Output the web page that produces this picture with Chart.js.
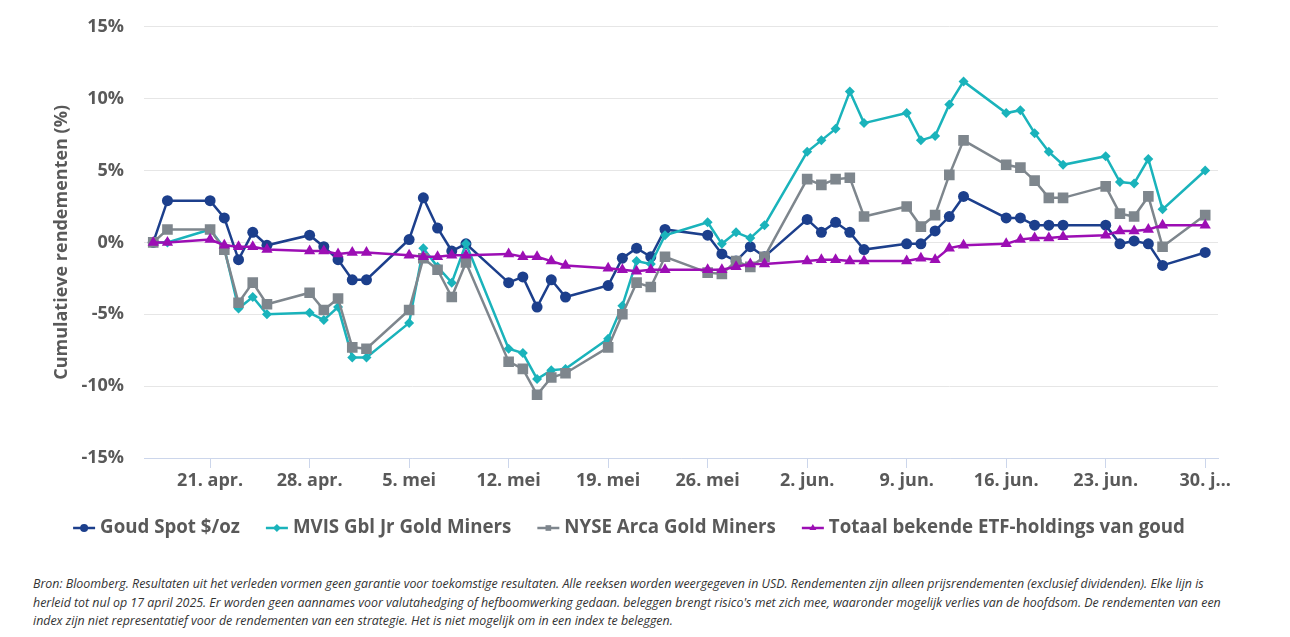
<!DOCTYPE html>
<html lang="nl">
  <head>
    <meta charset="UTF-8" />
    <title>Cumulatieve rendementen goud</title>
    <script src="https://cdn.jsdelivr.net/npm/chart.js@4.4.1/dist/chart.umd.min.js"></script>
    <style>
      body {
        margin: 0;
        background: #ffffff;
        font-family: "Open Sans", sans-serif;
      }
      .wrap {
        position: relative;
        width: 1290px;
        height: 637px;
        overflow: hidden;
      }
      #goldChart {
        position: absolute;
        left: 0;
        top: -4px;
      }
      .footer {
        position: absolute;
        left: 33px;
        top: 575px;
        font-size: 12.4px;
        line-height: 18.5px;
        font-style: italic;
        color: #333333;
        white-space: nowrap;
      }
    </style>
  </head>
  <body>
    <div class="wrap">
      <canvas id="goldChart" width="1290" height="564"></canvas>
      <div class="footer">
        Bron: Bloomberg. Resultaten uit het verleden vormen geen garantie voor toekomstige resultaten. Alle reeksen worden weergegeven in USD. Rendementen zijn alleen prijsrendementen (exclusief dividenden). Elke lijn is<br />
        herleid tot nul op 17 april 2025. Er worden geen aannames voor valutahedging of hefboomwerking gedaan. beleggen brengt risico's met zich mee, waaronder mogelijk verlies van de hoofdsom. De rendementen van een<br />
        index zijn niet representatief voor de rendementen van een strategie. Het is niet mogelijk om in een index te beleggen.
      </div>
    </div>

    <script>
      // trading days
      const dates = [
        "2025-04-17", "2025-04-18", "2025-04-21", "2025-04-22", "2025-04-23", "2025-04-24", "2025-04-25",
        "2025-04-28", "2025-04-29", "2025-04-30", "2025-05-01", "2025-05-02",
        "2025-05-05", "2025-05-06", "2025-05-07", "2025-05-08", "2025-05-09",
        "2025-05-12", "2025-05-13", "2025-05-14", "2025-05-15", "2025-05-16",
        "2025-05-19", "2025-05-20", "2025-05-21", "2025-05-22", "2025-05-23",
        "2025-05-26", "2025-05-27", "2025-05-28", "2025-05-29", "2025-05-30",
        "2025-06-02", "2025-06-03", "2025-06-04", "2025-06-05", "2025-06-06",
        "2025-06-09", "2025-06-10", "2025-06-11", "2025-06-12", "2025-06-13",
        "2025-06-16", "2025-06-17", "2025-06-18", "2025-06-19", "2025-06-20",
        "2025-06-23", "2025-06-24", "2025-06-25", "2025-06-26", "2025-06-27",
        "2025-06-30"
      ];

      const goudSpot = [
        0, 2.9, 2.9, 1.7, -1.2, 0.7, -0.2, 0.5, -0.3, -1.2, -2.6, -2.6,
        0.2, 3.1, 1.0, -0.6, -0.1, -2.8, -2.4, -4.5, -2.6, -3.8,
        -3.0, -1.1, -0.4, -1.0, 0.9, 0.5, -0.8, -1.3, -0.3, -1.0,
        1.6, 0.7, 1.4, 0.7, -0.5, -0.1, -0.1, 0.8, 1.8, 3.2,
        1.7, 1.7, 1.2, 1.2, 1.2, 1.2, -0.1, 0.1, -0.1, -1.6, -0.7
      ];
      const mvisJr = [
        0, 0, 0.9, -0.4, -4.6, -3.8, -5.0, -4.9, -5.4, -4.5, -8.0, -8.0,
        -5.6, -0.4, -1.7, -2.8, -0.1, -7.4, -7.7, -9.5, -8.9, -8.8,
        -6.7, -4.4, -1.3, -1.5, 0.5, 1.4, -0.1, 0.7, 0.3, 1.2,
        6.3, 7.1, 7.9, 10.5, 8.3, 9.0, 7.1, 7.4, 9.6, 11.2,
        9.0, 9.2, 7.6, 6.3, 5.4, 6.0, 4.2, 4.1, 5.8, 2.3, 5.0
      ];
      const nyseArca = [
        0, 0.9, 0.9, -0.5, -4.2, -2.8, -4.3, -3.5, -4.7, -3.9, -7.3, -7.4,
        -4.7, -1.1, -1.9, -3.8, -1.4, -8.3, -8.8, -10.6, -9.4, -9.1,
        -7.3, -5.0, -2.8, -3.1, -1.0, -2.1, -2.2, -1.3, -1.7, -1.0,
        4.4, 4.0, 4.4, 4.5, 1.8, 2.5, 1.1, 1.9, 4.7, 7.1,
        5.4, 5.2, 4.3, 3.1, 3.1, 3.9, 2.0, 1.8, 3.2, -0.3, 1.9
      ];
      const etfHoldings = [
        0, 0, 0.2, -0.2, -0.3, -0.3, -0.5, -0.6, -0.6, -0.8, -0.7, -0.7,
        -0.9, -1.0, -1.0, -0.9, -0.9, -0.8, -1.0, -1.0, -1.3, -1.6,
        -1.8, -1.9, -2.0, -1.9, -1.9, -1.9, -1.9, -1.7, -1.5, -1.5,
        -1.3, -1.2, -1.2, -1.3, -1.3, -1.3, -1.1, -1.2, -0.4, -0.2,
        -0.1, 0.2, 0.3, 0.3, 0.4, 0.5, 0.8, 0.8, 0.9, 1.2, 1.2
      ];

      const tickDates = ["2025-04-21", "2025-04-28", "2025-05-05", "2025-05-12", "2025-05-19", "2025-05-26",
        "2025-06-02", "2025-06-09", "2025-06-16", "2025-06-23", "2025-06-30"];
      const tickLabels = ["21. apr.", "28. apr.", "5. mei", "12. mei", "19. mei", "26. mei",
        "2. jun.", "9. jun.", "16. jun.", "23. jun.", "30. j\u2026"];

      const dayOf = (d) => (Date.parse(d) - Date.parse(dates[0])) / 86400000;
      const toPoints = (vals) => vals.map((v, i) => ({ x: dayOf(dates[i]), y: v }));
      const tickDays = tickDates.map(dayOf);

      const textGrey = "#595959";
      const boldFont = { family: "Open Sans", size: 18, weight: "bold" };

      function series(label, vals, color, style, radius, order) {
        return {
          label: label,
          data: toPoints(vals),
          borderColor: color,
          backgroundColor: color,
          borderWidth: 2.5,
          pointStyle: style,
          pointRadius: radius,
          pointHoverRadius: radius,
          pointBorderWidth: 0,
          tension: 0,
          order: order
        };
      }

      const datasets = [
        series("Goud Spot $/oz", goudSpot, "#1c3f8c", "circle", 5.5, 4),
        series("MVIS Gbl Jr Gold Miners", mvisJr, "#1ab3bb", "rectRot", 5, 3),
        series("NYSE Arca Gold Miners", nyseArca, "#7e868d", "rect", 7.5, 2),
        series("Totaal bekende ETF-holdings van goud", etfHoldings, "#9c0eb4", "triangle", 6.5, 1)
      ];

      // legend with line + marker like the original
      const bottomLegend = {
        id: "bottomLegend",
        afterDraw(chart) {
          const ctx = chart.ctx;
          ctx.save();
          ctx.font = 'bold 18.7px "Open Sans"';
          ctx.textBaseline = "middle";
          const sym = 22, gap = 5, itemGap = 26, y = 532;
          const items = chart.data.datasets.map((ds) => ({
            ds, w: sym + gap + ctx.measureText(ds.label).width
          }));
          const total = items.reduce((s, it) => s + it.w, 0) + itemGap * (items.length - 1);
          let x = 629 - total / 2;
          items.forEach(({ ds, w }) => {
            ctx.strokeStyle = ds.borderColor;
            ctx.lineWidth = 2.5;
            ctx.beginPath();
            ctx.moveTo(x, y);
            ctx.lineTo(x + sym, y);
            ctx.stroke();
            ctx.fillStyle = ds.borderColor;
            Chart.helpers.drawPoint(ctx, { pointStyle: ds.pointStyle, radius: 4, borderWidth: 0, rotation: 0 }, x + sym / 2, y);
            ctx.fillStyle = textGrey;
            ctx.textAlign = "left";
            ctx.fillText(ds.label, x + sym + gap, y);
            x += w + itemGap;
          });
          ctx.restore();
        }
      };

      const ctx = document.getElementById("goldChart").getContext("2d");
      const goldChart = new Chart(ctx, {
        type: "line",
        data: { datasets },
        plugins: [bottomLegend],
        options: {
          responsive: false,
          animation: false,
          layout: { padding: { top: 21, right: 72, bottom: 52, left: 0 } },
          plugins: {
            legend: { display: false },
            tooltip: { enabled: false }
          },
          scales: {
            x: {
              type: "linear",
              min: -0.65,
              max: 74.9,
              afterBuildTicks: (scale) => {
                scale.ticks = tickDays.map((v) => ({ value: v }));
              },
              afterFit: (scale) => {
                scale.height = 50;
              },
              ticks: {
                autoSkip: false,
                maxRotation: 0,
                padding: 2,
                color: textGrey,
                font: boldFont,
                callback: (v) => tickLabels[tickDays.indexOf(v)]
              },
              grid: {
                drawOnChartArea: false,
                drawTicks: true,
                tickLength: 10,
                color: "#ccd6eb"
              },
              border: { display: true, color: "#ccd6eb", width: 1 }
            },
            y: {
              min: -15,
              max: 15,
              afterFit: (scale) => {
                scale.width = 144;
              },
              ticks: {
                stepSize: 5,
                padding: 20,
                color: textGrey,
                font: boldFont,
                callback: (v) => v + "%"
              },
              grid: { color: "#e6e6e6", lineWidth: 1, drawTicks: false },
              border: { display: false },
              title: {
                display: true,
                text: "Cumulatieve rendementen (%)",
                color: textGrey,
                font: boldFont,
                padding: { top: 51, bottom: 0 }
              }
            }
          }
        }
      });
    </script>
  </body>
</html>
